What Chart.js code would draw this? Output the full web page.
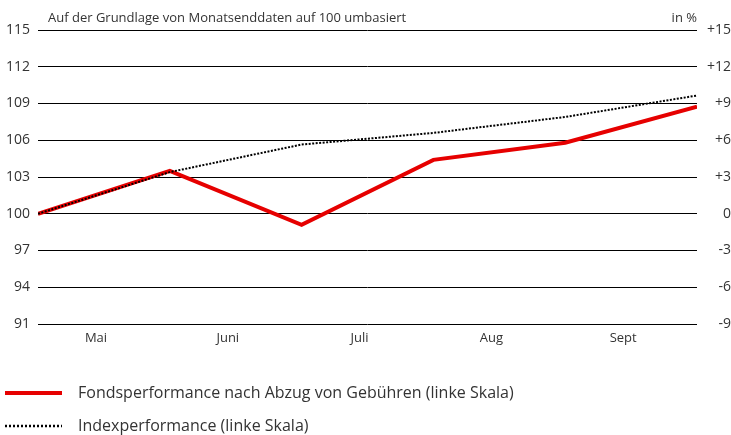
<!DOCTYPE html>
<html>
<head>
<meta charset="utf-8">
<script src="https://cdn.jsdelivr.net/npm/chart.js@4/dist/chart.umd.min.js"></script>
<style>
  html, body { margin: 0; padding: 0; background: #fff; }
  #wrap { width: 731px; height: 435px; position: relative; }
</style>
</head>
<body>
<div id="wrap"><canvas id="cs"></canvas></div>
<script>
// month-end points: end Apr .. end Sept
var months = ["Mai", "Juni", "Juli", "Aug", "Sept"];
var fund = [100, 103.5, 99.1, 104.4, 105.8, 108.75];
var index = [100, 103.4, 105.65, 106.6, 107.9, 109.65];
var leftTicks = [91, 94, 97, 100, 103, 106, 109, 112, 115];
var rightTicks = ["-9", "-6", "-3", "0", "+3", "+6", "+9", "+12", "+15"];

var fontFam = "'Open Sans', 'Noto Sans', sans-serif";
var txt = "#333";

function pts(arr) {
  return arr.map(function (v, i) { return { x: i, y: v }; });
}

var overlay = {
  id: "overlay",
  afterDraw: function (chart) {
    var c = chart.ctx;
    c.save();
    c.fillStyle = txt;
    c.textBaseline = "alphabetic";
    c.font = "13px " + fontFam;
    c.textAlign = "left";
    c.fillText("Auf der Grundlage von Monatsenddaten auf 100 umbasiert", 48, 22);
    c.textAlign = "right";
    c.fillText("in %", 697, 22);

    // legend
    var ds = chart.data.datasets;
    var rows = [393, 426];
    c.font = "16px " + fontFam;
    c.textAlign = "left";
    c.textBaseline = "middle";
    ds.forEach(function (d, i) {
      var y = rows[i];
      c.beginPath();
      c.strokeStyle = d.borderColor;
      c.lineWidth = i === 0 ? 4 : 2.5;
      c.setLineDash(i === 0 ? [] : [2, 2]);
      c.moveTo(5, y);
      c.lineTo(62, y);
      c.stroke();
      c.setLineDash([]);
      c.fillStyle = txt;
      c.fillText(d.label, 78, y);
    });
    c.restore();
  }
};

new Chart(document.getElementById("cs"), {
  type: "line",
  data: {
    datasets: [{
      label: "Fondsperformance nach Abzug von Gebühren (linke Skala)",
      data: pts(fund),
      borderColor: "#e60000",
      borderWidth: 4,
      pointRadius: 0,
      tension: 0,
      order: 1
    }, {
      label: "Indexperformance (linke Skala)",
      data: pts(index),
      borderColor: "#000",
      borderWidth: 2,
      borderDash: [2, 1.5],
      pointRadius: 0,
      tension: 0,
      order: 0
    }]
  },
  options: {
    responsive: true,
    maintainAspectRatio: false,
    animation: false,
    layout: { padding: { top: 30, bottom: 85, left: 0, right: 0 } },
    plugins: { legend: { display: false }, tooltip: { enabled: false } },
    scales: {
      x: {
        type: "linear",
        min: 0,
        max: fund.length - 1,
        grid: { display: false },
        border: { display: false },
        afterBuildTicks: function (ax) {
          ax.ticks = months.map(function (m, i) { return { value: i + 0.44 }; });
        },
        afterFit: function (ax) { ax.height = 26; },
        ticks: {
          autoSkip: false,
          maxRotation: 0,
          padding: -2,
          color: txt,
          font: { family: fontFam, size: 13 },
          callback: function (v) { return months[Math.floor(v)]; }
        }
      },
      y: {
        position: "left",
        min: 91,
        max: 115,
        afterBuildTicks: function (ax) {
          ax.ticks = leftTicks.map(function (v) { return { value: v }; });
        },
        afterFit: function (ax) { ax.width = 38; },
        grid: { color: "#000", lineWidth: 1, drawTicks: false },
        border: { display: false },
        ticks: {
          padding: 8,
          color: txt,
          font: { family: fontFam, size: 14 }
        }
      },
      y2: {
        position: "right",
        min: 91,
        max: 115,
        afterBuildTicks: function (ax) {
          ax.ticks = leftTicks.map(function (v) { return { value: v }; });
        },
        afterFit: function (ax) { ax.width = 34; },
        grid: { display: false },
        border: { display: false },
        ticks: {
          crossAlign: "far",
          padding: 0,
          color: txt,
          font: { family: fontFam, size: 14 },
          callback: function (v) { return rightTicks[leftTicks.indexOf(v)]; }
        }
      }
    }
  },
  plugins: [overlay]
});
</script>
</body>
</html>
